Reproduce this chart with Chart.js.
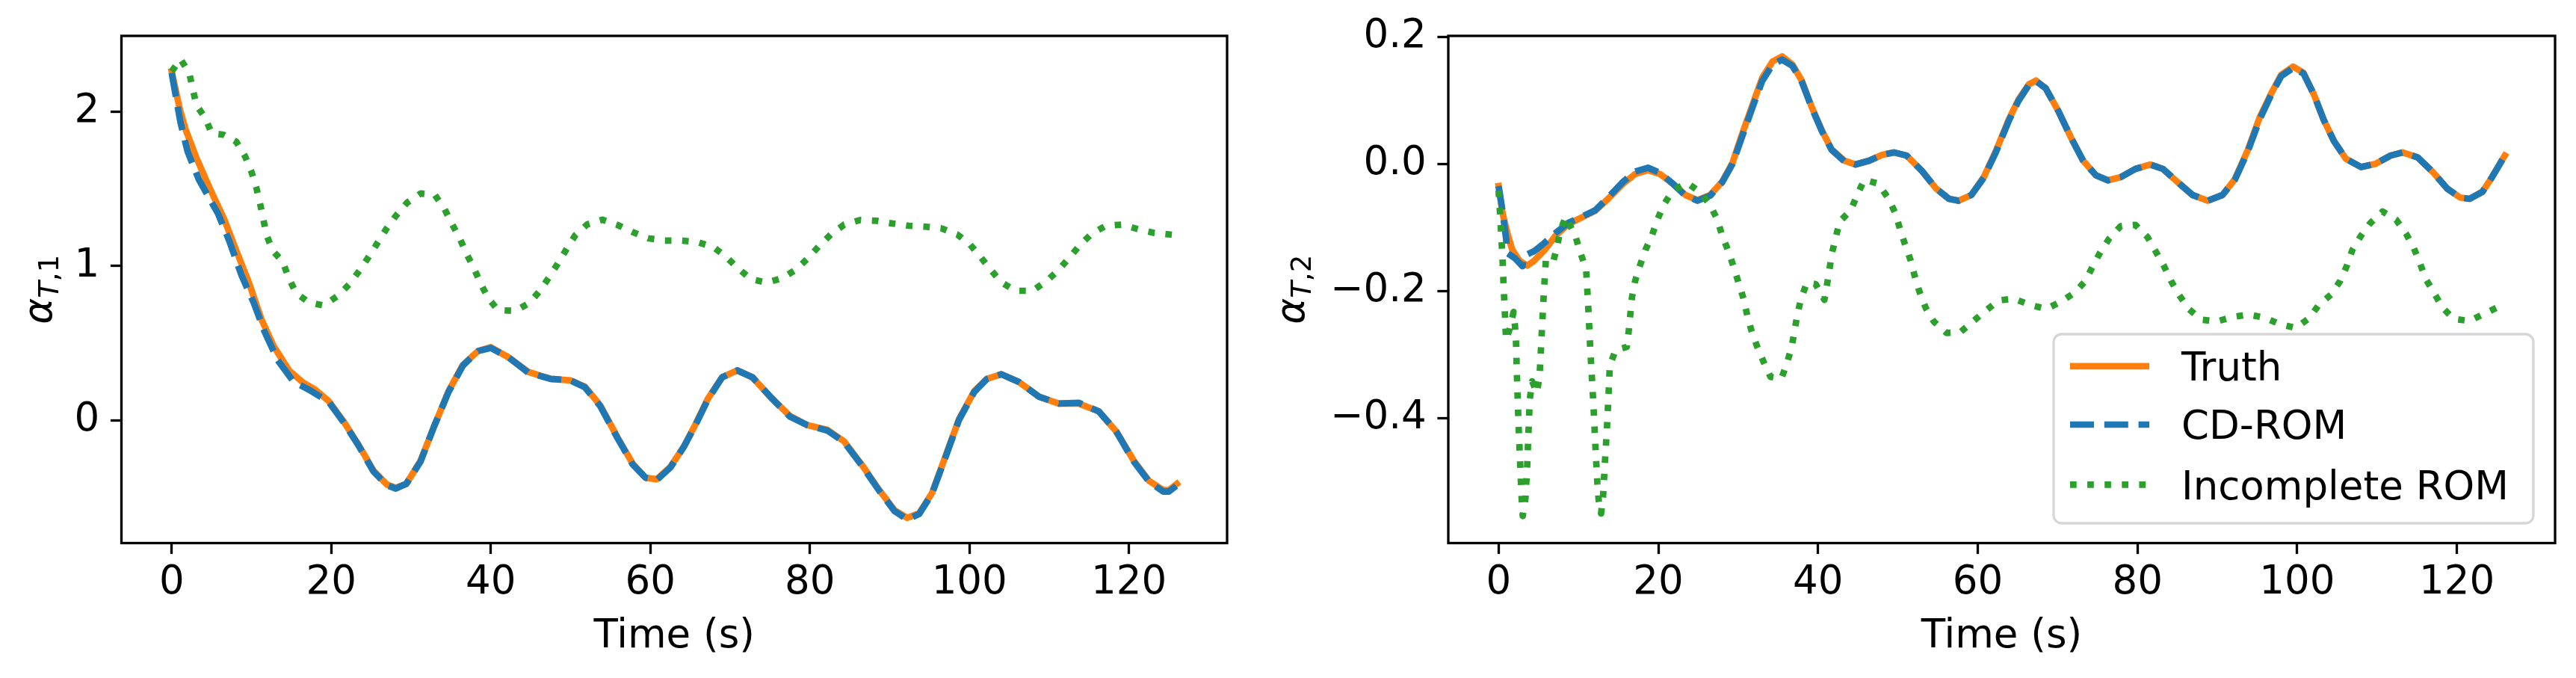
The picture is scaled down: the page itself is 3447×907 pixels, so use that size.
<!DOCTYPE html>
<html><head><meta charset="utf-8">
<script src="https://cdn.jsdelivr.net/npm/chart.js@4.4.1/dist/chart.umd.min.js"></script>
<style>
html,body{margin:0;padding:0;background:#fff;}
#wrap{position:relative;width:3447px;height:907px;overflow:hidden;background:#fff;}
canvas{position:absolute;top:0;}
</style></head><body>
<div id="wrap">
<canvas id="c1" width="1690" height="907" style="left:0px"></canvas>
<canvas id="c2" width="1757" height="907" style="left:1690px"></canvas>
</div>
<script>
// ---------- DATA ----------
const seriesNames = ['Truth', 'CD-ROM', 'Incomplete ROM'];
const timeTicks = [0, 20, 40, 60, 80, 100, 120];
const y1Ticks = [0, 1, 2];
const y2Ticks = [-0.4, -0.2, 0.0, 0.2];
const xLabel = 'Time (s)';

// Left panel (alpha_T,1)
const t1Truth = [0,1.0,1.7,3.1,4.8,6.6,8.1,9.7,11.25,12.8,14.7,16.5,18.0,19.7,21.6,23.4,25.3,27.0,28.1,29.4,31.2,32.8,34.7,36.5,38.4,40.0,42.2,44.7,47.5,50.0,51.8,53.7,55.9,57.8,59.4,60.8,62.5,64.2,65.6,67.2,69.0,70.9,72.8,75.3,77.5,79.7,82.2,84.3,86.5,88.7,90.6,92.2,93.7,95.3,96.8,98.7,100.6,102.2,104.0,106.2,108.7,111.2,113.7,116.2,118.4,120.6,122.5,124.3,125.0,126.0];
const v1Truth = [2.26,2.02,1.89,1.70,1.50,1.30,1.10,0.89,0.655,0.48,0.325,0.245,0.20,0.125,-0.01,-0.155,-0.325,-0.415,-0.435,-0.41,-0.26,-0.05,0.19,0.36,0.45,0.475,0.41,0.315,0.27,0.26,0.22,0.10,-0.11,-0.28,-0.37,-0.38,-0.30,-0.17,-0.03,0.14,0.28,0.325,0.28,0.14,0.03,-0.03,-0.06,-0.135,-0.285,-0.45,-0.58,-0.63,-0.60,-0.47,-0.26,0.01,0.19,0.27,0.30,0.25,0.155,0.11,0.11,0.06,-0.07,-0.26,-0.39,-0.45,-0.45,-0.41];

const t1Cd = [0,0.2,1.1,2.0,3.4,5.8,7.2,8.75,10.3,11.6,13.3,15.3,17.2,19.7,21.6,23.4,25.3,27.0,28.1,29.4,31.2,32.8,34.7,36.5,38.4,40.0,42.2,44.7,47.5,50.0,51.8,53.7,55.9,57.8,59.4,60.8,62.5,64.2,65.6,67.2,69.0,70.9,72.8,75.3,77.5,79.7,82.2,84.3,86.5,88.7,90.6,92.2,93.7,95.3,96.8,98.7,100.6,102.2,104.0,106.2,108.7,111.2,113.7,116.2,118.4,120.6,122.5,124.3,125.0,126.0];
const v1Cd = [2.25,2.19,1.93,1.74,1.56,1.34,1.165,0.94,0.76,0.58,0.39,0.25,0.20,0.12,-0.015,-0.16,-0.33,-0.42,-0.44,-0.41,-0.265,-0.05,0.185,0.355,0.45,0.47,0.41,0.31,0.27,0.26,0.215,0.095,-0.115,-0.285,-0.37,-0.385,-0.305,-0.17,-0.035,0.135,0.28,0.325,0.28,0.14,0.025,-0.03,-0.065,-0.14,-0.29,-0.455,-0.585,-0.64,-0.605,-0.475,-0.265,0.005,0.185,0.27,0.30,0.25,0.155,0.11,0.115,0.06,-0.07,-0.265,-0.395,-0.46,-0.46,-0.42];

const t1Inc = [0,1.1,2.2,2.65,3.1,4.2,5.0,6.5,8.1,9.2,10.0,10.6,11.1,11.5,11.9,12.65,13.9,14.7,15.6,17.2,19.05,20.9,22.3,23.6,24.7,25.8,26.9,28.1,29.5,31.2,33.0,34.2,35.1,36.1,36.95,37.9,38.7,39.7,40.9,43.05,44.8,46.1,47.3,48.4,49.5,50.6,52.1,54.0,55.9,57.8,59.7,61.8,63.9,65.9,67.9,69.5,71.0,72.6,74.6,76.5,78.3,79.8,81.2,82.7,84.3,86.3,88.4,90.3,92.4,94.5,96.5,98.5,100.1,101.4,102.7,104.0,105.8,107.9,109.6,111.1,112.5,113.8,115.3,117.1,119.1,121.1,123.2,125.2,126.0];
const v1Inc = [2.26,2.34,2.25,2.145,2.04,1.96,1.86,1.85,1.805,1.71,1.61,1.51,1.40,1.30,1.20,1.10,1.03,0.92,0.825,0.765,0.745,0.81,0.885,0.975,1.06,1.15,1.24,1.325,1.41,1.47,1.46,1.37,1.276,1.18,1.08,0.985,0.89,0.79,0.715,0.71,0.76,0.836,0.927,1.016,1.11,1.20,1.27,1.30,1.266,1.22,1.18,1.165,1.165,1.155,1.123,1.06,0.985,0.916,0.893,0.921,0.978,1.053,1.133,1.208,1.268,1.298,1.293,1.276,1.261,1.255,1.244,1.204,1.138,1.059,0.974,0.895,0.84,0.84,0.90,0.97,1.053,1.133,1.208,1.261,1.268,1.24,1.214,1.204,1.20];

// Right panel (alpha_T,2)
const t2Truth = [0,0.5,1.1,1.7,2.65,3.6,4.4,5.8,7.2,8.7,10.6,12.1,13.7,15.6,17.1,18.7,20.2,21.8,23.4,24.9,26.5,28.0,29.3,30.5,31.8,33.0,34.3,35.5,36.8,38.0,39.25,40.5,41.7,43.3,44.7,46.4,48.0,49.5,51.1,53.0,54.8,56.4,57.6,59.2,60.75,62.3,63.9,65.1,66.4,67.3,68.5,70.1,71.65,73.2,74.8,76.3,77.9,79.75,81.6,83.2,85.05,86.9,88.8,90.65,92.2,93.8,95.3,96.8,98.0,99.5,100.8,102.1,103.3,104.6,106.1,108.0,109.8,111.7,113.2,115.1,117.0,118.8,120.4,121.6,123.2,124.4,126.0];
const v2Truth = [-0.035,-0.078,-0.109,-0.135,-0.153,-0.16,-0.153,-0.135,-0.112,-0.095,-0.083,-0.074,-0.055,-0.031,-0.016,-0.010,-0.016,-0.031,-0.049,-0.057,-0.049,-0.028,0.002,0.047,0.093,0.135,0.161,0.169,0.156,0.13,0.088,0.052,0.023,0.005,-0.001,0.005,0.014,0.018,0.013,-0.011,-0.039,-0.055,-0.058,-0.049,-0.021,0.021,0.07,0.101,0.125,0.131,0.119,0.083,0.042,0.005,-0.018,-0.026,-0.021,-0.008,-0.001,-0.008,-0.029,-0.049,-0.058,-0.049,-0.024,0.021,0.073,0.112,0.14,0.153,0.143,0.109,0.07,0.036,0.008,-0.005,0.0,0.013,0.018,0.01,-0.013,-0.039,-0.053,-0.055,-0.044,-0.021,0.013];

const t2Cd = [0,0.5,0.95,1.05,2.0,3.0,3.15,4.5,5.5,7.2,8.7,10.6,12.1,13.7,15.6,17.1,18.7,20.2,21.8,23.4,24.9,26.5,28.0,29.3,30.5,31.8,33.0,34.3,35.5,36.8,38.0,39.25,40.5,41.7,43.3,44.7,46.4,48.0,49.5,51.1,53.0,54.8,56.4,57.6,59.2,60.75,62.3,63.9,65.1,66.4,67.3,68.5,70.1,71.65,73.2,74.8,76.3,77.9,79.75,81.6,83.2,85.05,86.9,88.8,90.65,92.2,93.8,95.3,96.8,98.0,99.5,100.8,102.1,103.3,104.6,106.1,108.0,109.8,111.7,113.2,115.1,117.0,118.8,120.4,121.6,123.2,124.4,126.0];
const v2Cd = [-0.035,-0.075,-0.119,-0.140,-0.148,-0.161,-0.145,-0.137,-0.127,-0.108,-0.093,-0.082,-0.073,-0.053,-0.028,-0.012,-0.006,-0.014,-0.031,-0.05,-0.058,-0.05,-0.029,0.0,0.043,0.089,0.13,0.156,0.164,0.154,0.128,0.087,0.051,0.022,0.004,-0.001,0.005,0.014,0.018,0.013,-0.011,-0.039,-0.055,-0.058,-0.049,-0.022,0.019,0.068,0.099,0.124,0.13,0.119,0.083,0.042,0.005,-0.018,-0.026,-0.021,-0.008,-0.001,-0.008,-0.029,-0.049,-0.058,-0.049,-0.025,0.019,0.07,0.11,0.138,0.151,0.142,0.109,0.07,0.036,0.008,-0.005,0.0,0.013,0.018,0.01,-0.013,-0.039,-0.053,-0.055,-0.044,-0.021,0.013];

const t2Inc = [0,0.25,0.47,0.65,0.84,0.93,1.4,1.87,2.05,2.18,2.3,2.5,2.68,2.84,3.02,3.36,3.58,3.74,3.9,4.2,4.8,5.14,5.45,5.67,5.92,6.85,7.3,7.7,8.4,9.65,10.3,10.96,11.2,11.5,11.85,12.15,12.37,12.53,12.83,13.08,13.3,13.55,13.75,13.93,14.65,16.05,16.3,16.7,17.1,17.7,18.4,19.2,19.9,20.7,21.8,23.6,25.2,26.5,27.4,28.0,28.8,29.4,30.05,30.7,31.15,31.7,32.4,33.2,34.05,35.4,36.1,36.7,37.4,37.85,38.6,39.7,40.8,41.1,41.4,41.7,42.2,42.7,44.1,44.9,45.8,47.5,48.8,49.7,50.3,50.9,51.6,52.1,52.7,53.5,54.5,56.1,57.8,59.4,61.0,62.6,64.5,66.6,68.6,70.4,72.2,73.5,74.4,75.35,76.5,77.9,79.75,81.25,82.3,83.3,84.2,85.2,86.4,88.0,89.9,91.9,93.9,95.9,97.8,99.8,101.5,102.7,104.3,105.4,106.2,106.9,108.0,109.1,110.7,112.4,113.65,114.6,115.4,116.1,117.1,118.2,119.6,121.6,123.4,125.2,126.0];
const v2Inc = [-0.042,-0.093,-0.145,-0.198,-0.25,-0.277,-0.259,-0.233,-0.255,-0.28,-0.335,-0.412,-0.464,-0.516,-0.554,-0.527,-0.475,-0.423,-0.371,-0.342,-0.36,-0.332,-0.254,-0.202,-0.150,-0.153,-0.132,-0.106,-0.083,-0.115,-0.142,-0.166,-0.218,-0.296,-0.373,-0.451,-0.503,-0.529,-0.55,-0.524,-0.472,-0.42,-0.368,-0.317,-0.293,-0.288,-0.262,-0.21,-0.184,-0.16,-0.135,-0.113,-0.087,-0.064,-0.042,-0.030,-0.044,-0.065,-0.088,-0.113,-0.138,-0.161,-0.187,-0.213,-0.239,-0.264,-0.288,-0.312,-0.335,-0.338,-0.314,-0.288,-0.238,-0.213,-0.187,-0.189,-0.214,-0.192,-0.169,-0.143,-0.117,-0.091,-0.073,-0.049,-0.025,-0.031,-0.054,-0.078,-0.104,-0.127,-0.152,-0.176,-0.201,-0.227,-0.248,-0.266,-0.265,-0.248,-0.231,-0.215,-0.212,-0.222,-0.228,-0.217,-0.202,-0.184,-0.161,-0.139,-0.117,-0.098,-0.096,-0.115,-0.138,-0.16,-0.184,-0.206,-0.228,-0.245,-0.248,-0.241,-0.237,-0.242,-0.252,-0.258,-0.243,-0.222,-0.205,-0.184,-0.161,-0.136,-0.113,-0.094,-0.075,-0.088,-0.11,-0.132,-0.157,-0.181,-0.202,-0.226,-0.244,-0.247,-0.236,-0.225,-0.222];

// ---------- STYLE / LAYOUT ----------
const FONT = 'DejaVu Sans';
const FS = 53;
const LW = 8.7;
const SPINE = 3.3;
const COLORS = ['#ff7f0e', '#1f77b4', '#2ca02c'];
const DASHES = [[], [32, 13.8], [8.7, 14.4]];
const CAPS = ['square', 'butt', 'butt'];
Chart.defaults.font.family = FONT;

function pts(t, v) { return t.map((x, i) => ({ x: x, y: v[i] })); }

function makeDatasets(series) {
  return series.map((s, i) => ({
    label: seriesNames[i],
    data: pts(s[0], s[1]),
    borderColor: COLORS[i],
    backgroundColor: COLORS[i],
    borderWidth: LW,
    borderDash: DASHES[i],
    borderCapStyle: CAPS[i],
    borderJoinStyle: 'round',
    pointRadius: 0,
    pointHoverRadius: 0,
    fill: false,
    tension: 0,
    order: 3 - i,
    clip: 0
  }));
}

function drawLine(ctx, i, x0, x1, y) {
  ctx.save();
  ctx.strokeStyle = COLORS[i];
  ctx.lineWidth = LW;
  ctx.setLineDash(DASHES[i]);
  ctx.lineCap = CAPS[i];
  ctx.beginPath(); ctx.moveTo(x0, y); ctx.lineTo(x1, y); ctx.stroke();
  ctx.restore();
}

function roundRectPath(ctx, x, y, w, h, r) {
  ctx.beginPath();
  ctx.moveTo(x + r, y);
  ctx.lineTo(x + w - r, y); ctx.arcTo(x + w, y, x + w, y + r, r);
  ctx.lineTo(x + w, y + h - r); ctx.arcTo(x + w, y + h, x + w - r, y + h, r);
  ctx.lineTo(x + r, y + h); ctx.arcTo(x, y + h, x, y + h - r, r);
  ctx.lineTo(x, y + r); ctx.arcTo(x, y, x + r, y, r);
  ctx.closePath();
}

const decor = {
  id: 'decor',
  afterDatasetsDraw(chart, args, opts) {
    const ctx = chart.ctx, a = chart.chartArea;
    ctx.save();
    // frame (spines)
    ctx.strokeStyle = '#000'; ctx.lineWidth = SPINE; ctx.setLineDash([]);
    ctx.strokeRect(a.left, a.top, a.right - a.left, a.bottom - a.top);
    // x title
    ctx.fillStyle = '#000';
    ctx.font = FS + 'px "' + FONT + '"';
    ctx.textAlign = 'left'; ctx.textBaseline = 'alphabetic';
    const xw = ctx.measureText(xLabel).width;
    ctx.fillText(xLabel, (a.left + a.right) / 2 - xw / 2, a.bottom + 139.5);
    // y title (mathtext-like alpha_{T,n})
    const parts = [
      { t: 'α', f: 'italic ' + FS + 'px "' + FONT + '"', dy: 0 },
      { t: 'T', f: 'italic 37px "' + FONT + '"', dy: 9 },
      { t: ',', f: '37px "' + FONT + '"', dy: 9 },
      { t: opts.sub, f: '37px "' + FONT + '"', dy: 9 }
    ];
    let tot = 0;
    parts.forEach(p => { ctx.font = p.f; p.w = ctx.measureText(p.t).width; tot += p.w; });
    ctx.translate(a.left - opts.yOff, (a.top + a.bottom) / 2);
    ctx.rotate(-Math.PI / 2);
    let x = -tot / 2;
    parts.forEach(p => { ctx.font = p.f; ctx.fillText(p.t, x, p.dy); x += p.w; });
    ctx.restore();

    if (opts.legend) {
      const bw = 642, bh = 253;
      const bx = a.right - 29 - bw, by = a.bottom - 26.5 - bh;
      ctx.save();
      roundRectPath(ctx, bx, by, bw, bh, 10.6);
      ctx.fillStyle = 'rgba(255,255,255,0.8)'; ctx.fill();
      ctx.lineWidth = 3.3; ctx.strokeStyle = '#d6d6d6'; ctx.stroke();
      const rows = [42.8, 121, 201.3];
      ctx.fillStyle = '#000';
      ctx.font = FS + 'px "' + FONT + '"';
      ctx.textAlign = 'left'; ctx.textBaseline = 'alphabetic';
      for (let i = 0; i < 3; i++) {
        const y = by + rows[i];
        const sq = CAPS[i] === 'square' ? LW / 2 : 0;
        drawLine(ctx, i, bx + 22 + sq, bx + 128 - sq, y);
        ctx.fillText(seriesNames[i], bx + 171, y + 19.3);
      }
      ctx.restore();
    }
  }
};

function fmt1(v) { return String(v); }
function fmt2(v) { return v.toFixed(1).replace('-', '\u2212'); }

function makeChart(id, series, yTicks, yMin, yMax, fmt, yWidth, padRight, opts) {
  return new Chart(document.getElementById(id), {
    type: 'line',
    data: { datasets: makeDatasets(series) },
    plugins: [decor],
    options: {
      responsive: false,
      animation: false,
      events: [],
      layout: { padding: { left: 0, top: 48, right: padRight, bottom: 0 } },
      plugins: { legend: { display: false }, tooltip: { enabled: false }, decor: opts },
      scales: {
        x: {
          type: 'linear', min: -6.3, max: 132.3,
          afterBuildTicks: s => { s.ticks = timeTicks.map(v => ({ value: v })); },
          afterFit: s => { s.height = 180.5; },
          ticks: { color: '#000', font: { family: FONT, size: FS, lineHeight: 1.2 }, padding: 7, maxRotation: 0, autoSkip: false, callback: v => String(v) },
          grid: { display: true, drawOnChartArea: false, drawTicks: true, tickLength: 14.6, tickWidth: SPINE, tickColor: '#000' },
          border: { display: false }
        },
        y: {
          type: 'linear', min: yMin, max: yMax,
          afterBuildTicks: s => { s.ticks = yTicks.map(v => ({ value: v })); },
          afterFit: s => { s.width = yWidth; },
          ticks: { color: '#000', font: { family: FONT, size: FS, lineHeight: 1.2 }, padding: 14.6, autoSkip: false, callback: v => fmt(v) },
          grid: { display: true, drawOnChartArea: false, drawTicks: true, tickLength: 14.6, tickWidth: SPINE, tickColor: '#000' },
          border: { display: false }
        }
      }
    }
  });
}

makeChart('c1', [[t1Truth, v1Truth], [t1Cd, v1Cd], [t1Inc, v1Inc]], y1Ticks, -0.793, 2.490, fmt1, 162.5, 48,
  { sub: '1', yOff: 93.5, legend: false });
makeChart('c2', [[t2Truth, v2Truth], [t2Cd, v2Cd], [t2Inc, v2Inc]], y2Ticks, -0.5965, 0.2013, fmt2, 248, 28,
  { sub: '2', yOff: 193.2, legend: true });
</script>
</body></html>
